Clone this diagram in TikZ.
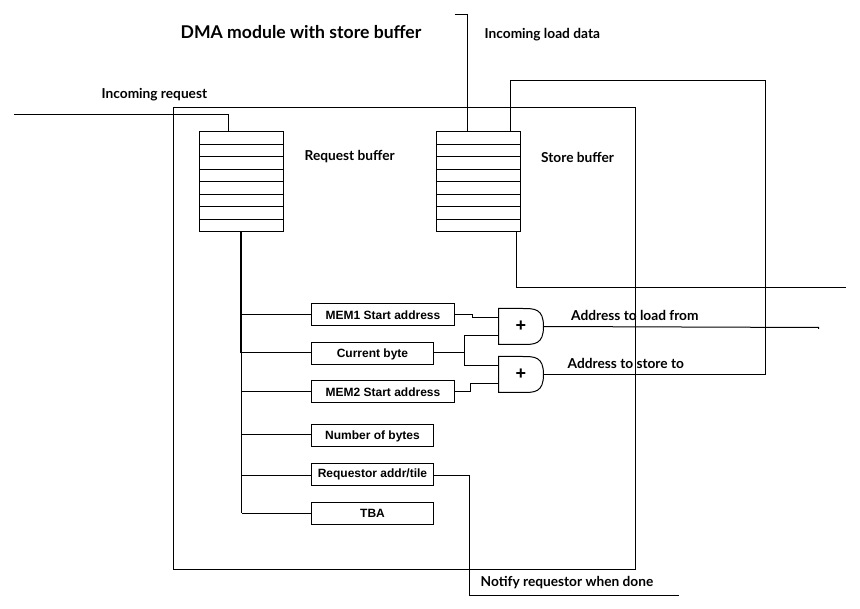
\documentclass[tikz,border=0pt]{standalone}
\usepackage{fontspec}
\setmainfont{Lato}
\newfontfamily\boxfont{Liberation Sans}
\tikzset{
  x=1pt,y=-1pt,
  wire/.style={draw=black,line width=1pt},
  fifo/.style={draw=black,line width=1pt,rectangle,outer sep=0pt,minimum width=84pt,minimum height=100pt,inner sep=0pt,anchor=north west},
  reg/.style={draw=black,line width=1pt,rectangle,outer sep=0pt,minimum height=22pt,inner sep=0pt,text height=7.6pt,text depth=0pt,anchor=north west,font=\boxfont\bfseries\fontsize{12}{14}\selectfont},
  regw/.style={reg,minimum width=143pt,text height=9.4pt},
  regn/.style={reg,minimum width=122pt},
  lab/.style={inner sep=0pt,anchor=west,font=\bfseries\fontsize{13.7}{16}\selectfont},
  gatesym/.style={inner sep=0pt,outer sep=0pt,rectangle,minimum width=45pt,minimum height=36pt,anchor=north west,font=\boxfont\bfseries\fontsize{18}{18}\selectfont},
}
\begin{document}
\begin{tikzpicture}
\useasboundingbox (0,0) rectangle (860,609);
\fill[white] (0,0) rectangle (860,609);
% outer module
\node[draw=black,line width=1pt,rectangle,outer sep=0pt,inner sep=0pt,minimum width=462pt,minimum height=462pt,anchor=north west] (module) at (173.5,107.5) {};
% buffers
\node[fifo] (reqbuf) at (199.5,131.5) {};
\node[fifo] (storebuf) at (436.5,131.5) {};
\foreach \b in {reqbuf,storebuf}{
  \foreach \d in {13,25,38,50,63,75,88}{
    \draw[wire] ([yshift=-\d pt]\b.north west) -- ([yshift=-\d pt]\b.north east);
  }
}
% registers
\node[regw] (mem1) at (311.5,303.5) {MEM1 Start address};
\node[regn] (cur) at (311.5,342.5) {Current byte};
\node[regw] (mem2) at (311.5,380.5) {MEM2 Start address};
\node[regn] (num) at (311.5,424.5) {Number of bytes};
\node[regn,text height=7pt] (rqa) at (311.5,463.5) {Requestor addr/tile};
\node[regn] (tba) at (311.5,502.5) {TBA};
% gates
\node[gatesym] (g1) at (498.5,308.5) {\raisebox{-2.5pt}{+}};
\node[gatesym] (g2) at (498.5,356.5) {\raisebox{-2.5pt}{+}};
\foreach \g in {g1,g2}{
  \draw[wire] (\g.north west) -- ([xshift=24pt]\g.north west)
    .. controls ([xshift=36pt]\g.north west) and (\g.east|-\g.north) .. (\g.east)
    .. controls (\g.east|-\g.south) and ([xshift=36pt]\g.south west) .. ([xshift=24pt]\g.south west)
    -- (\g.south west) -- cycle;
}
% free ends and junctions
\coordinate (reqin) at (14,114.5);
\coordinate (reqtap) at (228.5,131.5);
\coordinate (loadin) at (454.5,14.5);
\coordinate (loadtap) at (467.5,131.5);
\coordinate (sttap) at (510.5,131.5);
\coordinate (stbot) at (516.5,231.5);
\coordinate (stout) at (846,287.5);
\coordinate (bustop) at (241,231.5);
\coordinate (busmid) at (241,353);
\coordinate (busthin) at (241.5,352.5);
\coordinate (busend) at (241.5,513.5);
\coordinate (g1a) at (498.5,317.5);
\coordinate (g1b) at (498.5,335.5);
\coordinate (g2a) at (498.5,365.5);
\coordinate (g2b) at (498.5,383.5);
\coordinate (addr1) at (818.5,327.5);
\coordinate (notify) at (679,595.5);
\coordinate (corner) at (765.5,80.5);
\coordinate (mj) at (464.5,352.5);
% connectors
\draw[wire] (reqin) -| (reqtap);
\draw[wire] (loadin) -| (loadtap);
\draw[wire] (sttap) |- (corner) |- (g2.east);
\draw[wire] (stbot) |- (stout);
\draw[line width=2pt] (bustop) -- (busmid);
\draw[wire] (busthin) -- (busend);
\draw[wire] (mem1.west) -- (mem1.west-|busthin);
\draw[wire] ([yshift=1pt]cur.west) -- ([yshift=1pt]cur.west-|busthin);
\draw[wire] (mem2.west) -- (mem2.west-|busthin);
\draw[wire] ([yshift=1pt]num.west) -- ([yshift=1pt]num.west-|busthin);
\draw[wire] ([yshift=-1pt]rqa.west) -- ([yshift=-1pt]rqa.west-|busthin);
\draw[wire] (tba.west) -- (tba.west-|busthin);
\draw[wire] (mem1.east) -- (472.5,314.5) |- (g1a);
\draw[wire] (mem2.east) -- (470.5,391.5) |- (g2b);
\draw[wire] ([yshift=1pt]cur.east) -- (mj) |- (g1b);
\draw[wire] (mj) |- (g2a);
\draw[wire] (g1.east) -- (addr1) -- ++(0,1.5);
\draw[wire] ([yshift=-1pt]rqa.east) -| (469.5,595.5) -- (notify);
% labels
\node[inner sep=0pt,anchor=west,font=\bfseries\fontsize{17.6}{20}\selectfont] (title) at (180.5,32) {DMA module with store buffer};
\node[lab] (l1) at (484.5,35) {Incoming load data};
\node[lab] (l2) at (101.5,94.5) {Incoming request};
\node[lab] (l3) at (304.5,157) {Request buffer};
\node[lab] (l4) at (541,157) {Store buffer};
\node[lab] (l5) at (571,315) {Address to load from};
\node[lab] (l6) at (567.5,363) {Address to store to};
\node[lab] (l7) at (480.5,582.5) {Notify requestor when done};
\end{tikzpicture}
\end{document}
